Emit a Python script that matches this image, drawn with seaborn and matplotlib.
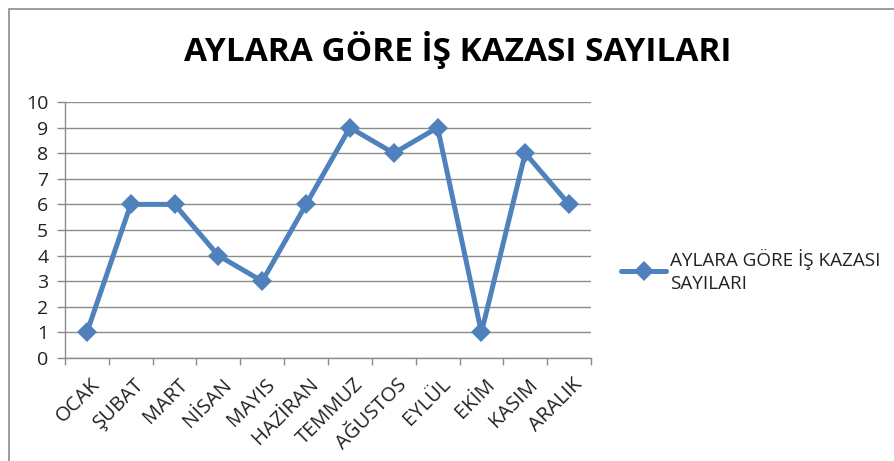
import matplotlib
matplotlib.use("Agg")
import matplotlib.pyplot as plt
import seaborn as sns
import pandas as pd
from matplotlib.patches import Rectangle
from matplotlib.ticker import FixedLocator, MultipleLocator
from matplotlib.transforms import ScaledTranslation

months = ["OCAK", "ŞUBAT", "MART", "NİSAN", "MAYIS", "HAZİRAN",
          "TEMMUZ", "AĞUSTOS", "EYLÜL", "EKİM", "KASIM", "ARALIK"]
counts = [1, 6, 6, 4, 3, 6, 9, 8, 9, 1, 8, 6]
series_name = "AYLARA GÖRE İŞ KAZASI\nSAYILARI"
title = "AYLARA GÖRE İŞ KAZASI SAYILARI"

sns.set_theme(style="white")
plt.rcParams['font.family'] = ['Open Sans', 'DejaVu Sans']

df = pd.DataFrame({"ay": months, "sayi": counts})

fig = plt.figure(figsize=(8.94, 4.61), dpi=100)
ax = fig.add_axes([65/894, 1-358/461, (591-65)/894, (358-102)/461])

sns.lineplot(data=df, x="ay", y="sayi", sort=False, ax=ax, color="#4F81BD",
             linewidth=3.6, marker="D", markersize=10, markeredgewidth=0,
             label=series_name)

ax.set_xlim(-0.5, len(months) - 0.5)
ax.set_ylim(0, 10)
ax.yaxis.set_major_locator(MultipleLocator(1))
ax.grid(axis="y", color="#8c8c8c", linewidth=1.0)
ax.set_axisbelow(True)
ax.set_xlabel("")
ax.set_ylabel("")

for s in ["top", "right"]:
    ax.spines[s].set_visible(False)
for s in ["left", "bottom"]:
    ax.spines[s].set_color("#8c8c8c")
    ax.spines[s].set_linewidth(1.0)

ax.set_xticks(range(len(months)))
ax.set_xticklabels(months, rotation=45, ha="right", va="top",
                   rotation_mode="anchor", fontsize=14.5, color="#222222")
ax.tick_params(axis="x", which="major", length=0, pad=12)
shift = ScaledTranslation(3/100, 0, fig.dpi_scale_trans)
for lab in ax.get_xticklabels():
    lab.set_transform(lab.get_transform() + shift)
ax.xaxis.set_minor_locator(FixedLocator([i - 0.5 for i in range(len(months) + 1)]))
ax.tick_params(axis="x", which="minor", length=5, color="#8c8c8c", width=1, direction="out", bottom=True)
ax.tick_params(axis="y", length=6, color="#8c8c8c", width=1, direction="out", left=True,
               labelsize=14, labelcolor="#222222", pad=6)

leg = ax.legend(loc="center left", bbox_to_anchor=(621/894, 1-271/461),
                bbox_transform=fig.transFigure, frameon=False, fontsize=13.6,
                borderpad=0, borderaxespad=0,
                handlelength=2.4, handletextpad=0.2, labelcolor="#222222")
for t in leg.get_texts():
    t.set_linespacing(1.35)

fig.text(0.5 * (185 + 730) / 894, 1 - 50/461, title, ha="center", va="center",
         fontsize=24, fontweight="bold", color="black")

fig.patches.append(Rectangle((9/894, -0.05), 1.05, 1 - 9/461 + 0.05,
                             transform=fig.transFigure, fill=False,
                             edgecolor="#8c8c8c", linewidth=1.2))

fig.savefig("out.png", dpi=100)
